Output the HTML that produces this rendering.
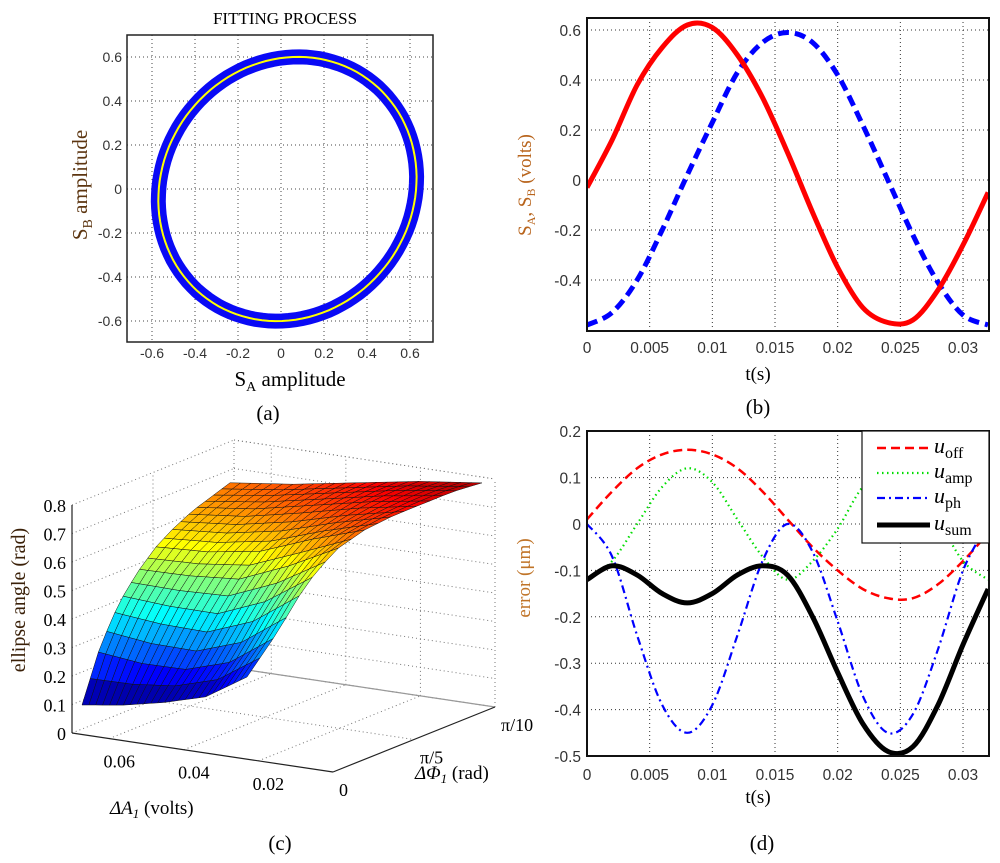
<!DOCTYPE html>
<html><head><meta charset="utf-8">
<style>
html,body{margin:0;padding:0;background:#fff;}
svg{display:block;}
text{font-family:"Liberation Sans",sans-serif;}
.serif{font-family:"Liberation Serif",serif;}
</style></head>
<body>
<svg id="fig" width="1000" height="863" viewBox="0 0 1000 863" xmlns="http://www.w3.org/2000/svg">
<g id="pa"></g>
<g id="pb"></g>
<g id="pc"></g>
<g id="pd"></g>
</svg>
<script>
// ---------- data ----------
const aTicks = [-0.6,-0.4,-0.2,0,0.2,0.4,0.6];
const ellipseCenter = [0.03, 0.0];
const ellipseSemi = [0.625, 0.575];
const ellipseTiltDeg = [45];

const tTicks = [0,0.005,0.01,0.015,0.02,0.025,0.03];
const tTickLabels = ["0","0.005","0.01","0.015","0.02","0.025","0.03"];
const bTicks = [0.6,0.4,0.2,0,-0.2,-0.4];
const tVals = [0,0.002,0.004,0.006,0.008,0.010,0.012,0.014,0.016,0.018,0.020,0.022,0.024,0.026,0.028,0.030,0.032];
const sA = [-0.03,0.16,0.38,0.53,0.62,0.61,0.50,0.33,0.11,-0.13,-0.35,-0.51,-0.57,-0.56,-0.44,-0.26,-0.05];
const sB = [-0.58,-0.53,-0.40,-0.20,0.02,0.23,0.43,0.55,0.59,0.55,0.42,0.22,0.0,-0.22,-0.41,-0.54,-0.58];

const dTicks = [0.2,0.1,0,-0.1,-0.2,-0.3,-0.4,-0.5];
const uOff = [0.01,0.07,0.12,0.15,0.16,0.15,0.12,0.07,0.01,-0.05,-0.10,-0.14,-0.16,-0.16,-0.13,-0.08,-0.02];
const uAmp = [-0.12,-0.08,0.0,0.08,0.12,0.09,0.01,-0.07,-0.12,-0.08,-0.01,0.08,0.12,0.09,0.01,-0.08,-0.12];
const uPh = [0,-0.07,-0.24,-0.39,-0.45,-0.39,-0.24,-0.08,0.0,-0.06,-0.21,-0.37,-0.45,-0.41,-0.27,-0.10,0.0];
const uSum = [-0.12,-0.09,-0.11,-0.15,-0.17,-0.15,-0.11,-0.09,-0.11,-0.20,-0.32,-0.43,-0.49,-0.48,-0.39,-0.26,-0.14];

const zTicks = [0,0.1,0.2,0.3,0.4,0.5,0.6,0.7,0.8];
const surfU = [0,0.25,0.5,0.75,1];            // ΔA fraction (left = 0.07 -> right = 0)
const surfV = [0,0.125,0.25,0.375,0.5,0.625,0.75,0.875,1]; // ΔΦ fraction
const zCol0 = [0.10,0.28,0.40,0.48,0.54,0.58,0.61,0.63,0.65];
const zCol1 = [0.10,0.24,0.37,0.47,0.54,0.59,0.63,0.66,0.68];
const zCol2 = [0.11,0.22,0.35,0.47,0.56,0.62,0.67,0.70,0.72];
const zCol3 = [0.13,0.25,0.40,0.53,0.62,0.67,0.71,0.74,0.76];
const zCol4 = [0.20,0.34,0.50,0.61,0.67,0.71,0.74,0.77,0.79];

// ---------- helpers ----------
const NS="http://www.w3.org/2000/svg";
function mk(parent,tag,attrs){const e=document.createElementNS(NS,tag);for(const k in attrs)e.setAttribute(k,attrs[k]);parent.appendChild(e);return e;}
function txt(parent,x,y,s,size,anchor,cls,fill){const e=mk(parent,'text',{x:x,y:y,'font-size':size,'text-anchor':anchor||'middle',fill:fill||'#000'});if(cls)e.setAttribute('class',cls);e.textContent=s;return e;}
function smooth(pts){let d='M'+pts[0][0]+','+pts[0][1];for(let i=0;i<pts.length-1;i++){const p0=pts[i-1]||pts[i],p1=pts[i],p2=pts[i+1],p3=pts[i+2]||p2;
const c1=[p1[0]+(p2[0]-p0[0])/6,p1[1]+(p2[1]-p0[1])/6],c2=[p2[0]-(p3[0]-p1[0])/6,p2[1]-(p3[1]-p1[1])/6];
d+=' C'+c1[0].toFixed(1)+','+c1[1].toFixed(1)+' '+c2[0].toFixed(1)+','+c2[1].toFixed(1)+' '+p2[0].toFixed(1)+','+p2[1].toFixed(1);}return d;}

// ---------- panel a ----------
(function(){
const g=document.getElementById('pa');
const X0=127,X1=433,Y0=35,Y1=342;
const sx=v=>281+v*215, sy=v=>189-v*220;
mk(g,'rect',{x:X0,y:Y0,width:X1-X0,height:Y1-Y0,fill:'#fff',stroke:'none'});
aTicks.forEach(v=>{
 let l=mk(g,'line',{x1:sx(v),x2:sx(v),y1:Y0,y2:Y1,stroke:'#444','stroke-width':1,'stroke-dasharray':'1,3'});
 
 let m=mk(g,'line',{x1:X0,x2:X1,y1:sy(v),y2:sy(v),stroke:'#444','stroke-width':1,'stroke-dasharray':'1,3'});
 
 let t1=txt(g,sx(v),358,String(v),14,'middle',null,'#333');
 
 let t2=txt(g,122,sy(v)+5,String(v),14,'end',null,'#333');
 
});
const th=ellipseTiltDeg[0]*Math.PI/180;const pts=[];
for(let i=0;i<=120;i++){const a=i/120*2*Math.PI;const ex=ellipseSemi[0]*Math.cos(a),ey=ellipseSemi[1]*Math.sin(a);
 pts.push([sx(ellipseCenter[0]+ex*Math.cos(th)-ey*Math.sin(th)),sy(ellipseCenter[1]+ex*Math.sin(th)+ey*Math.cos(th))]);}
const d='M'+pts.map(p=>p[0].toFixed(1)+','+p[1].toFixed(1)).join(' L')+'Z';
const band=mk(g,'path',{d:d,fill:'none',stroke:'#0a0af5','stroke-width':15});

const fit=mk(g,'path',{d:d,fill:'none',stroke:'#ffff00','stroke-width':2});

mk(g,'rect',{x:X0,y:Y0,width:X1-X0,height:Y1-Y0,fill:'none',stroke:'#222','stroke-width':1.5});
let t=txt(g,285,24,'FITTING PROCESS',17,'middle','serif');

t=mk(g,'text',{x:290,y:386,'font-size':21,'text-anchor':'middle',class:'serif'});t.innerHTML='S<tspan font-size="14" dy="5">A</tspan><tspan dy="-5"> amplitude</tspan>';

t=mk(g,'text',{x:0,y:0,'font-size':21,'text-anchor':'middle',class:'serif',fill:'#5c3510',transform:'translate(87,185) rotate(-90)'});t.innerHTML='S<tspan font-size="14" dy="5">B</tspan><tspan dy="-5"> amplitude</tspan>';

t=txt(g,268,420,'(a)',21,'middle','serif');
})();

// ---------- panel b / d shared axes ----------
function lineAxes(g,Y0,Y1,sy,yTicks,X0,X1,sx,xLabY){
 mk(g,'rect',{x:X0,y:Y0,width:X1-X0,height:Y1-Y0,fill:'#fff'});
 tTicks.forEach((v,i)=>{
  let l=mk(g,'line',{x1:sx(v),x2:sx(v),y1:Y0,y2:Y1,stroke:'#333','stroke-width':1,'stroke-dasharray':'1,3'});
  
  let t=txt(g,sx(v),xLabY,tTickLabels[i],15.5,'middle',null,'#333');
  
 });
 yTicks.forEach(v=>{
  let l=mk(g,'line',{x1:X0,x2:X1,y1:sy(v),y2:sy(v),stroke:'#333','stroke-width':1,'stroke-dasharray':'1,3'});
  
  let t=txt(g,581,sy(v)+6,String(v),15.5,'end',null,'#333');
  
 });
}
(function(){
const g=document.getElementById('pb');
const X0=587,X1=989,Y0=18,Y1=331;
const sx=v=>587+v/0.005*62.67, sy=v=>180-v*250;
lineAxes(g,Y0,Y1,sy,bTicks,X0,X1,sx,353);
const clip=mk(g,'clipPath',{id:'clipb'});mk(clip,'rect',{x:X0,y:Y0,width:X1-X0,height:Y1-Y0});
const gg=mk(g,'g',{'clip-path':'url(#clipb)'});
let p=mk(gg,'path',{d:smooth(tVals.map((t,i)=>[sx(t),sy(sB[i])])),fill:'none',stroke:'#0000ff','stroke-width':5,'stroke-dasharray':'11,6'});

p=mk(gg,'path',{d:smooth(tVals.map((t,i)=>[sx(t),sy(sA[i])])),fill:'none',stroke:'#ff0000','stroke-width':5});

mk(g,'rect',{x:X0,y:Y0,width:X1-X0,height:Y1-Y0,fill:'none',stroke:'#111','stroke-width':2});
let t=txt(g,758,380,'t(s)',19,'middle','serif');
t=mk(g,'text',{x:0,y:0,'font-size':19,'text-anchor':'middle',class:'serif',fill:'#b8641c',transform:'translate(531,185) rotate(-90)'});
t.innerHTML='S<tspan font-size="12" dy="4">A</tspan><tspan dy="-4">, S</tspan><tspan font-size="12" dy="4">B</tspan><tspan dy="-4"> (volts)</tspan>';

t=txt(g,758,414,'(b)',21,'middle','serif');
})();

(function(){
const g=document.getElementById('pd');
const X0=587,X1=989,Y0=431,Y1=756;
const sx=v=>587+v/0.005*62.67, sy=v=>524-v*464;
lineAxes(g,Y0,Y1,sy,dTicks,X0,X1,sx,780);
const clip=mk(g,'clipPath',{id:'clipd'});mk(clip,'rect',{x:X0,y:Y0,width:X1-X0,height:Y1-Y0});
const gg=mk(g,'g',{'clip-path':'url(#clipd)'});
const series=[[uOff,'#ff0000',2.5,'9,5','series-u-off'],[uAmp,'#00dd00',2.2,'1.5,3.5','series-u-amp'],[uPh,'#0000ff',2.2,'8,4,2,4','series-u-ph'],[uSum,'#000',5,'','series-u-sum']];
series.forEach(s=>{
 const p=mk(gg,'path',{d:smooth(tVals.map((t,i)=>[sx(t),sy(s[0][i])])),fill:'none',stroke:s[1],'stroke-width':s[2]});
 if(s[3])p.setAttribute('stroke-dasharray',s[3]);
 
 
});
mk(g,'rect',{x:X0,y:Y0,width:X1-X0,height:Y1-Y0,fill:'none',stroke:'#111','stroke-width':2});
// legend
const lg=mk(g,'g',{});

mk(lg,'rect',{x:862,y:431,width:127,height:112,fill:'#fff',stroke:'#111','stroke-width':1.2});
const ent=[['off',448,'#ff0000',2.5,'9,5'],['amp',473,'#00dd00',2.2,'1.5,3.5'],['ph',498,'#0000ff',2.2,'8,4,2,4'],['sum',525,'#000',5,'']];
ent.forEach(e=>{
 const l=mk(lg,'line',{x1:877,x2:930,y1:e[1],y2:e[1],stroke:e[2],'stroke-width':e[3]});
 if(e[4])l.setAttribute('stroke-dasharray',e[4]);
 
 const t=mk(lg,'text',{x:934,y:e[1]+5,'font-size':22,class:'serif'});
 t.innerHTML='<tspan font-style="italic">u</tspan><tspan font-size="16" dy="5">'+e[0]+'</tspan>';
 
});
let t=txt(g,758,803,'t(s)',19,'middle','serif');
t=txt(g,0,0,'error (μm)',19,'middle','serif','#c07428');t.setAttribute('transform','translate(530,578) rotate(-90)');

t=txt(g,762,850,'(d)',21,'middle','serif');
})();

// ---------- panel c ----------
(function(){
const g=document.getElementById('pc');
const P=(s,p,z)=>[333-261*s+162*p, 772-39*s-65*p-285*z];
const gl=(a,b,name)=>{const l=mk(g,'line',{x1:a[0],y1:a[1],x2:b[0],y2:b[1],stroke:'#777','stroke-width':1,'stroke-dasharray':'1,3'});};
zTicks.forEach(z=>{ gl(P(1,0,z),P(1,1,z),'grid-z-left'); gl(P(1,1,z),P(0,1,z),'grid-z-back'); });
[0.02,0.04,0.06].forEach(a=>{ gl(P(a/0.07,1,0),P(a/0.07,1,0.8),'grid-a-back'); gl(P(a/0.07,0,0),P(a/0.07,1,0),'grid-a-floor'); });
[0.5,1].forEach(p=>{ gl(P(1,p,0),P(1,p,0.8),'grid-p-left'); gl(P(1,p,0),P(0,p,0),'grid-p-floor'); });
gl(P(1,1,0.8),P(0,1,0.8),'box-top'); gl(P(0,1,0),P(0,1,0.8),'box-edge');
mk(g,'line',{x1:P(1,1,0)[0],y1:P(1,1,0)[1],x2:P(0,1,0)[0],y2:P(0,1,0)[1],stroke:'#999','stroke-width':1.2});
mk(g,'line',{x1:P(1,0,0)[0],y1:P(1,0,0)[1],x2:P(1,0,0.8)[0],y2:P(1,0,0.8)[1],stroke:'#222','stroke-width':1.2});
mk(g,'line',{x1:P(1,0,0)[0],y1:P(1,0,0)[1],x2:P(0,0,0)[0],y2:P(0,0,0)[1],stroke:'#222','stroke-width':1.2});
mk(g,'line',{x1:P(0,0,0)[0],y1:P(0,0,0)[1],x2:P(0,1,0)[0],y2:P(0,1,0)[1],stroke:'#222','stroke-width':1.2});
zTicks.forEach(z=>{const q=P(1,0,z);const t=txt(g,q[0]-6,q[1]+7,String(z),18,'end','serif');});
[[0.06,'0.06'],[0.04,'0.04'],[0.02,'0.02']].forEach(a=>{const q=P(a[0]/0.07,0,0);const t=txt(g,q[0]+10,q[1]+29,a[1],18,'middle','serif');});
[[0,'0'],[0.5,'π/5'],[1,'π/10']].forEach(a=>{const q=P(0,a[0],0);const t=txt(g,q[0]+6,q[1]+24,a[1],18,'start','serif');});
const cols=[zCol0,zCol1,zCol2,zCol3,zCol4];
const LF=[82,733.5],RF=[247,734],LB=[230,668],RB=[482,708];
const scr=(u,v,z)=>{const x=(1-u)*(1-v)*LF[0]+u*(1-v)*RF[0]+(1-u)*v*LB[0]+u*v*RB[0];
 const y=(1-u)*(1-v)*LF[1]+u*(1-v)*RF[1]+(1-u)*v*LB[1]+u*v*RB[1];return [x,y-285*z];};
const zAt=(u,v)=>{const nu=surfU.length-1,nv=surfV.length-1;let i=Math.min(Math.floor(u*nu),nu-1),j=Math.min(Math.floor(v*nv),nv-1);
 const fu=u*nu-i,fv=v*nv-j;return (1-fu)*(1-fv)*cols[i][j]+fu*(1-fv)*cols[i+1][j]+(1-fu)*fv*cols[i][j+1]+fu*fv*cols[i+1][j+1];};
const jet=t=>{const c=x=>Math.round(255*Math.max(0,Math.min(1,x)));return 'rgb('+c(1.5-Math.abs(4*t-3))+','+c(1.5-Math.abs(4*t-2))+','+c(1.5-Math.abs(4*t-1))+')';};
const NU=24,NV=18;
const sg=mk(g,'g',{});
for(let j=NV-1;j>=0;j--){for(let i=0;i<NU;i++){
 const u0=i/NU,u1=(i+1)/NU,v0=j/NV,v1=(j+1)/NV;
 const z00=zAt(u0,v0),z10=zAt(u1,v0),z11=zAt(u1,v1),z01=zAt(u0,v1);
 const q=[scr(u0,v0,z00),scr(u1,v0,z10),scr(u1,v1,z11),scr(u0,v1,z01)];
 const zm=(z00+z10+z11+z01)/4;
 const c=mk(sg,'polygon',{points:q.map(p=>p[0].toFixed(1)+','+p[1].toFixed(1)).join(' '),fill:jet((zm-0.1)/0.72),stroke:'#111','stroke-width':0.5});
 
 
}}
let t=txt(g,0,0,'ellipse angle (rad)',20,'middle','serif','#3a2008');t.setAttribute('transform','translate(25,600) rotate(-90)');

t=mk(g,'text',{x:110,y:814,'font-size':19,class:'serif'});t.innerHTML='<tspan font-style="italic">ΔA</tspan><tspan font-style="italic" font-size="13" dy="4">1</tspan><tspan dy="-4"> (volts)</tspan>';

t=mk(g,'text',{x:415,y:779,'font-size':19,class:'serif'});t.innerHTML='<tspan font-style="italic">ΔΦ</tspan><tspan font-style="italic" font-size="13" dy="4">1</tspan><tspan dy="-4"> (rad)</tspan>';

t=txt(g,280,850,'(c)',21,'middle','serif');
})();
</script>
</body></html>
